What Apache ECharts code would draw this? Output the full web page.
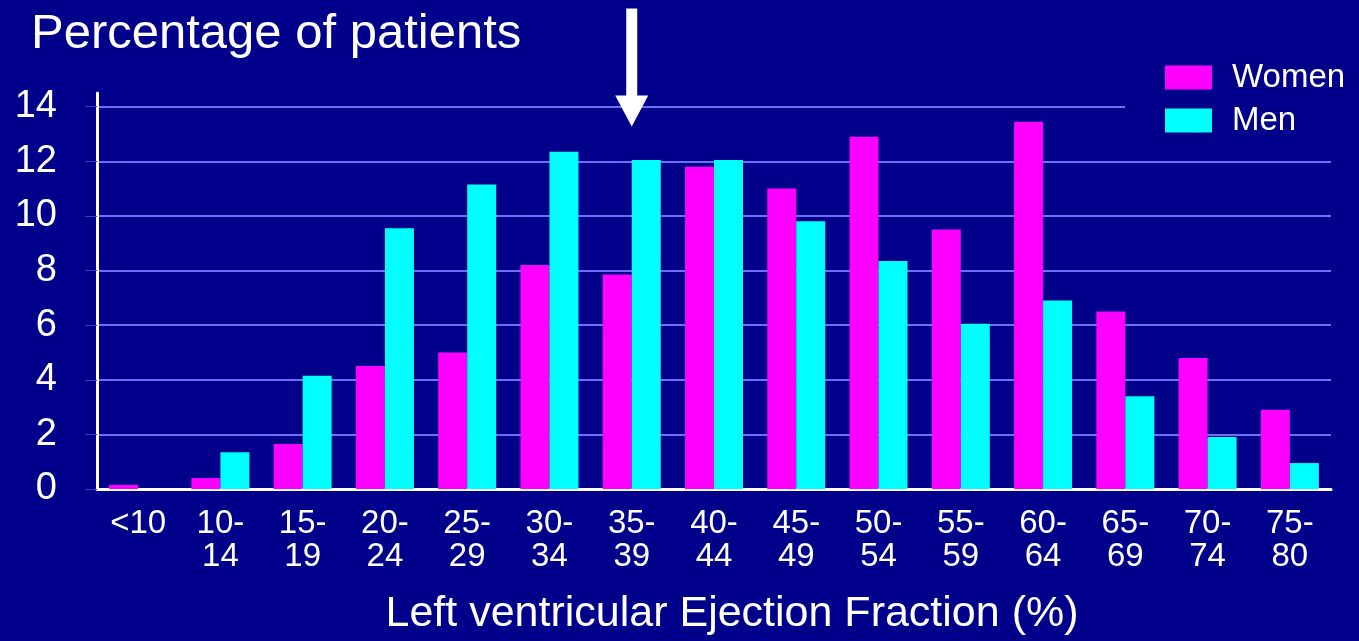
<!DOCTYPE html>
<html>
<head>
<meta charset="utf-8">
<script src="https://cdn.jsdelivr.net/npm/echarts@6/dist/echarts.min.js"></script>
<style>
  html, body { margin: 0; padding: 0; background: #00008b; }
  #chart { width: 1359px; height: 641px; }
</style>
</head>
<body>
<div id="chart"></div>
<script>
// ---- data ----
const categories = ['<10', '10-\n14', '15-\n19', '20-\n24', '25-\n29', '30-\n34', '35-\n39', '40-\n44', '45-\n49', '50-\n54', '55-\n59', '60-\n64', '65-\n69', '70-\n74', '75-\n80'];
const women = [0.15, 0.4, 1.65, 4.5, 5.0, 8.2, 7.85, 11.8, 11.0, 12.9, 9.5, 13.45, 6.5, 4.8, 2.9];
const men   = [0.0, 1.35, 4.15, 9.55, 11.15, 12.35, 12.05, 12.05, 9.8, 8.35, 6.05, 6.9, 3.4, 1.9, 0.95];
const yMin = 0, yMax = 14.5, yStep = 2;
const arrowAt = { category: '35-\n39', value: 13.27 };

const FONT = "'Liberation Sans', Arial, sans-serif";
const BG = '#00008b';
const GRID = '#6f6ff5';

const chart = echarts.init(document.getElementById('chart'));
chart.setOption({
  backgroundColor: BG,
  animation: false,
  title: {
    text: 'Percentage of patients',
    left: 31, top: 10,
    padding: 0,
    textStyle: { color: '#ffffff', fontSize: 49, fontWeight: 'normal', fontFamily: FONT }
  },
  legend: {
    data: ['Women', 'Men'],
    orient: 'vertical',
    left: 1125, top: 46,
    padding: [15, 10, 8, 40],
    backgroundColor: BG,
    itemWidth: 47, itemHeight: 24, itemGap: 10,
    icon: 'rect',
    textStyle: { color: '#ffffff', fontSize: 33, lineHeight: 24, fontFamily: FONT, padding: [0, 0, 0, 15] }
  },
  grid: { left: 97, right: 28, top: 93, bottom: 149 },
  xAxis: {
    type: 'category',
    data: categories,
    axisLine: { show: true, lineStyle: { color: '#ffffff', width: 3 } },
    axisTick: { show: false },
    axisLabel: { color: '#ffffff', fontSize: 33, lineHeight: 33, fontFamily: FONT, margin: 18, interval: 0, align: 'center' },
    name: 'Left ventricular Ejection Fraction (%)',
    nameLocation: 'middle',
    nameGap: 104,
    nameTextStyle: { color: '#ffffff', fontSize: 43, fontFamily: FONT, padding: [0, 0, 0, 36] }
  },
  yAxis: {
    type: 'value',
    min: yMin, max: yMax, interval: yStep,
    axisLine: { show: true, lineStyle: { color: '#ffffff', width: 3 } },
    axisTick: { show: true, length: 12, lineStyle: { color: '#3a3ac8', width: 1 } },
    axisLabel: { color: '#ffffff', fontSize: 38, fontFamily: FONT, margin: 40, showMaxLabel: false },
    splitLine: { show: true, showMaxLine: false, lineStyle: { color: GRID, width: 2 } }
  },
  series: [
    {
      name: 'Women', type: 'bar', data: women,
      barWidth: 29, barGap: '0%',
      itemStyle: { color: '#ff00ff' }
    },
    {
      name: 'Men', type: 'bar', data: men,
      barWidth: 29, barGap: '0%',
      itemStyle: { color: '#00ffff' }
    },
    {
      name: 'arrow', type: 'scatter', data: [],
      markPoint: {
        symbol: 'path://M11,0 L22,0 L22,87 L33,87 L16.5,118 L0,87 L11,87 Z',
        symbolSize: [33, 118],
        symbolKeepAspect: false,
        symbolOffset: [0, '-50%'],
        itemStyle: { color: '#ffffff' },
        label: { show: false },
        data: [{ coord: [arrowAt.category, arrowAt.value] }]
      }
    }
  ]
});
</script>
</body>
</html>
